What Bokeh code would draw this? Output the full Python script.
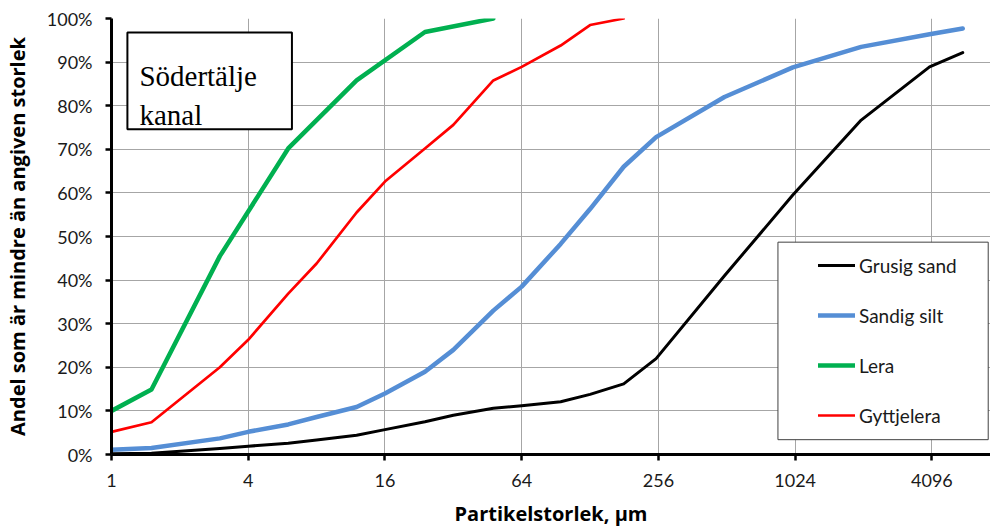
from bokeh.plotting import figure
from bokeh.models import (FixedTicker, PrintfTickFormatter, NumeralTickFormatter, Legend,
                          LegendItem, BoxAnnotation, Label, Range1d)
from bokeh.embed import file_html
from bokeh.resources import INLINE

# ---- data (particle size in µm, cumulative % passing) ----
sizes_all = [1, 1.5, 3, 4, 6, 8, 12, 16, 24, 32, 48, 64, 95, 128, 180, 250, 500, 1000, 2000, 4000, 5600]
grusig_sand = [0.2, 0.3, 1.4, 1.9, 2.6, 3.3, 4.4, 5.7, 7.5, 9.0, 10.6, 11.2, 12.1, 13.8, 16.2, 22.0, 41.0, 59.5, 76.7, 88.9, 92.2]
sandig_silt = [1.1, 1.5, 3.7, 5.2, 6.9, 8.6, 10.9, 14.0, 19.0, 24.0, 33.0, 38.5, 48.3, 56.3, 66.0, 72.8, 82.0, 88.8, 93.5, 96.4, 97.7]

lera_sizes = [1, 1.5, 3, 6, 12, 24, 48]
lera = [10.0, 14.9, 45.5, 70.2, 85.8, 96.9, 100.0]

gyttjelera_sizes = [1, 1.5, 3, 4, 6, 8, 12, 16, 24, 32, 48, 64, 95, 128, 180]
gyttjelera = [5.2, 7.4, 20.0, 26.3, 36.9, 43.8, 55.5, 62.6, 70.2, 75.6, 85.8, 88.9, 93.8, 98.5, 100.0]

x_ticks = [1, 4, 16, 64, 256, 1024, 4096]
y_ticks = [0, 10, 20, 30, 40, 50, 60, 70, 80, 90, 100]

series_names = ["Grusig sand", "Sandig silt", "Lera", "Gyttjelera"]
series_colors = ["#000000", "#558ED5", "#00B050", "#FF0000"]
series_widths = [3, 4.5, 4.5, 2.7]

# ---- figure ----
p = figure(width=990, height=530, x_axis_type="log",
           x_range=Range1d(1, 7420), y_range=Range1d(0, 100),
           output_backend="svg", toolbar_location=None,
           min_border_left=108, min_border_right=0, min_border_top=18, min_border_bottom=76)
p.outline_line_color = None
p.background_fill_color = "white"
p.border_fill_color = "white"

grid_color = "#a6a6a6"
p.xgrid.ticker = FixedTicker(ticks=x_ticks)
p.ygrid.ticker = FixedTicker(ticks=y_ticks)
p.xgrid.grid_line_color = grid_color
p.ygrid.grid_line_color = grid_color
p.xgrid.grid_line_width = 1
p.ygrid.grid_line_width = 1

data_sets = [
    (sizes_all, grusig_sand),
    (sizes_all, sandig_silt),
    (lera_sizes, lera),
    (gyttjelera_sizes, gyttjelera),
]
renderers = []
for (xs, ys), name, col, w in zip(data_sets, series_names, series_colors, series_widths):
    r = p.line(xs, ys, line_color=col, line_width=w, line_join="round", line_cap="round")
    renderers.append(r)

# axes
for ax in (p.xaxis[0], p.yaxis[0]):
    ax.axis_line_width = 3
    ax.axis_line_color = "black"
    ax.major_tick_line_color = "black"
    ax.major_tick_line_width = 2.5
    ax.major_tick_out = 6
    ax.major_tick_in = 0
    ax.minor_tick_line_color = None
    ax.major_label_text_font = "Lato"
    ax.major_label_text_font_size = "18px"
    ax.major_label_text_color = "#1a1a1a"
    ax.axis_label_text_font = "Open Sans"
    ax.axis_label_text_font_style = "bold"
    ax.axis_label_text_font_size = "20px"
    ax.axis_label_text_color = "black"

p.xaxis.ticker = FixedTicker(ticks=x_ticks)
p.xaxis.formatter = NumeralTickFormatter(format="0")
p.xaxis.major_label_standoff = 13
p.xaxis.axis_label = "Partikelstorlek, µm"
p.xaxis.axis_label_standoff = 10

p.yaxis.ticker = FixedTicker(ticks=y_ticks)
p.yaxis.formatter = PrintfTickFormatter(format="%d%%")
p.yaxis.major_label_standoff = 13
p.yaxis.axis_label = "Andel som är mindre än angiven storlek"
p.yaxis.axis_label_standoff = 13

# title box "Södertälje kanal"
p.add_layout(BoxAnnotation(left=1.175, right=6.23, bottom=74.6, top=96.8,
                           fill_color="white", fill_alpha=1,
                           line_color="black", line_alpha=1, line_width=2))
for txt, yy in (("Södertälje", 86.7), ("kanal", 77.8)):
    p.add_layout(Label(x=1.327, y=yy, text=txt, text_font="Liberation Serif",
                       text_font_size="29px", text_color="black",
                       text_baseline="alphabetic"))

# legend box + legend
p.add_layout(BoxAnnotation(left=860, right=7250, bottom=3.4, top=48.7,
                           fill_color="white", fill_alpha=1,
                           line_color="#404040", line_alpha=1, line_width=1))
legend = Legend(items=[LegendItem(label=n, renderers=[r]) for n, r in zip(series_names, renderers)],
                location=(707, 26), margin=0, padding=0, spacing=24, glyph_width=37, glyph_height=26,
                label_height=26, label_standoff=4, border_line_alpha=0, background_fill_alpha=0,
                label_text_font="Lato", label_text_font_size="19px", label_text_color="#1a1a1a")
p.add_layout(legend, "center")

open("out.html", "w").write(file_html(p, INLINE))
